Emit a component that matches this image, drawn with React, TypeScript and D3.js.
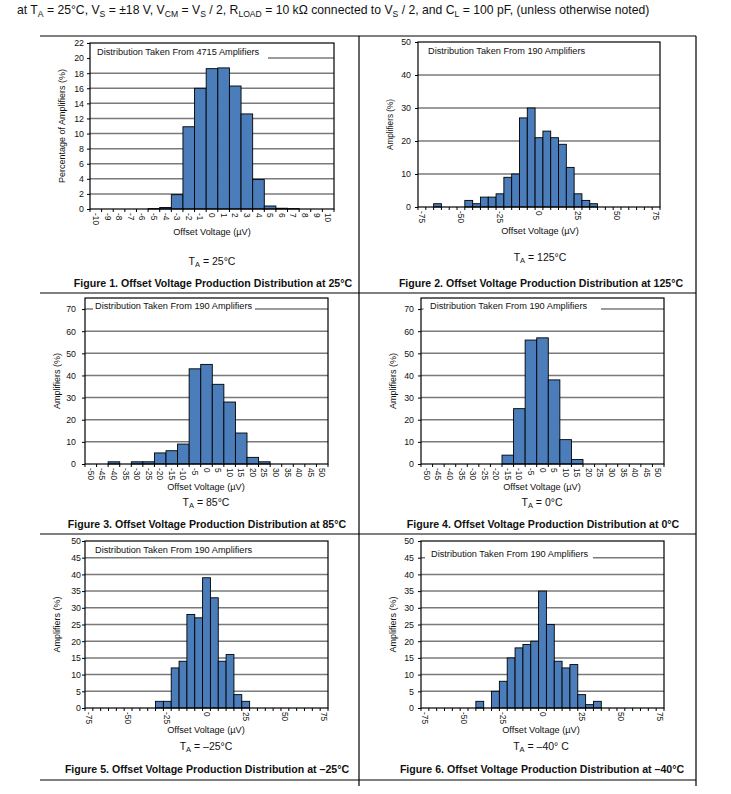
import { useEffect, useRef } from 'react';
import * as d3 from 'd3';

// ---- data ----
const fig1Bins = [-10, -9, -8, -7, -6, -5, -4, -3, -2, -1, 0, 1, 2, 3, 4, 5, 6, 7, 8, 9, 10];
const fig1Values = [0, 0, 0, 0, 0, 0.05, 0.2, 1.9, 10.9, 16, 18.6, 18.7, 16.3, 12.6, 3.9, 0.4, 0.1, 0.05, 0, 0, 0];
const fig1YTicks = [0, 2, 4, 6, 8, 10, 12, 14, 16, 18, 20, 22];

const wideBins = [-75, -70, -65, -60, -55, -50, -45, -40, -35, -30, -25, -20, -15, -10, -5, 0, 5, 10, 15, 20, 25, 30, 35, 40, 45, 50, 55, 60, 65, 70, 75];
const wideLabels = [-75, -50, -25, 0, 25, 50, 75];
const midBins = [-50, -45, -40, -35, -30, -25, -20, -15, -10, -5, 0, 5, 10, 15, 20, 25, 30, 35, 40, 45, 50];

const fig2Values = [0, 0, 1, 0, 0, 0, 2, 1, 3, 3, 4, 9, 10, 27, 30, 21, 23, 21, 19, 12, 4, 2, 1, 0, 0, 0, 0, 0, 0, 0, 0];
const fig2YTicks = [0, 10, 20, 30, 40, 50];

const fig3Values = [0, 0, 1, 0, 1, 1, 5, 6, 9, 43, 45, 36, 28, 14, 3, 1, 0, 0, 0, 0, 0];
const fig4Values = [0, 0, 0, 0, 0, 0, 0, 4, 25, 56, 57, 38, 11, 2, 0, 0, 0, 0, 0, 0, 0];
const fig34YTicks = [0, 10, 20, 30, 40, 50, 60, 70];

const fig5Values = [0, 0, 0, 0, 0, 0, 0, 0, 0, 2, 2, 12, 14, 28, 27, 39, 33, 14, 16, 4, 2, 0, 0, 0, 0, 0, 0, 0, 0, 0, 0];
const fig6Values = [0, 0, 0, 0, 0, 0, 0, 2, 0, 5, 8, 15, 18, 19, 20, 35, 25, 14, 12, 13, 4, 1, 2, 0, 0, 0, 0, 0, 0, 0, 0];
const fig56YTicks = [0, 5, 10, 15, 20, 25, 30, 35, 40, 45, 50];

const headerParts: [string, boolean][] = [
  ['at T', false], ['A', true], [' = 25°C, V', false], ['S', true], [' = ±18 V, V', false], ['CM', true],
  [' = V', false], ['S', true], [' / 2, R', false], ['LOAD', true], [' = 10 kΩ connected to V', false],
  ['S', true], [' / 2, and C', false], ['L', true], [' = 100 pF, (unless otherwise noted)', false],
];

const FONT = 'Liberation Sans, Arial, Helvetica, sans-serif';
const BAR = '#4a7dba';
const GRID = '#7a7a7a';

interface Panel {
  bins: number[];
  values: number[];
  labels: number[];
  yTicks: number[];
  yMax: number;
  left: number; right: number; top: number; bottom: number;
  yTitle: string; yTitleX: number; yTitleSize: number; tickPad: number;
  legend: string; legendX: number; legendY: number; box: [number, number] | null;
  cx: number; xTitleY: number;
  ta: string; taY: number;
  fig: string; figY: number;
}

const panels: Panel[] = [
  {
    bins: fig1Bins, values: fig1Values, labels: fig1Bins, yTicks: fig1YTicks, yMax: 22,
    left: 90, right: 334, top: 43, bottom: 209,
    yTitle: 'Percentage of Amplifiers (%)', yTitleX: 63, yTitleSize: 9, tickPad: 6,
    legend: 'Distribution Taken From 4715 Amplifiers', legendX: 97, legendY: 53, box: [90, 268],
    cx: 212, xTitleY: 233, ta: '25°C', taY: 261,
    fig: 'Figure 1. Offset Voltage Production Distribution at 25°C', figY: 283,
  },
  {
    bins: wideBins, values: fig2Values, labels: wideLabels, yTicks: fig2YTicks, yMax: 50,
    left: 418, right: 660, top: 42, bottom: 207,
    yTitle: 'Amplifiers (%)', yTitleX: 391, yTitleSize: 8.2, tickPad: 7,
    legend: 'Distribution Taken From 190 Amplifiers', legendX: 428, legendY: 52, box: null,
    cx: 540, xTitleY: 232, ta: '125°C', taY: 257,
    fig: 'Figure 2. Offset Voltage Production Distribution at 125°C', figY: 283,
  },
  {
    bins: midBins, values: fig3Values, labels: midBins, yTicks: fig34YTicks, yMax: 75,
    left: 85, right: 328, top: 298, bottom: 464,
    yTitle: 'Amplifiers (%)', yTitleX: 58, yTitleSize: 9, tickPad: 9,
    legend: 'Distribution Taken From 190 Amplifiers', legendX: 95, legendY: 307, box: [93, 255],
    cx: 206, xTitleY: 488, ta: '85°C', taY: 502,
    fig: 'Figure 3. Offset Voltage Production Distribution at 85°C', figY: 524,
  },
  {
    bins: midBins, values: fig4Values, labels: midBins, yTicks: fig34YTicks, yMax: 75,
    left: 421, right: 664, top: 298, bottom: 464,
    yTitle: 'Amplifiers (%)', yTitleX: 394, yTitleSize: 9, tickPad: 7,
    legend: 'Distribution Taken From 190 Amplifiers', legendX: 430, legendY: 307, box: [423.5, 601],
    cx: 542, xTitleY: 488, ta: '0°C', taY: 502,
    fig: 'Figure 4. Offset Voltage Production Distribution at 0°C', figY: 524,
  },
  {
    bins: wideBins, values: fig5Values, labels: wideLabels, yTicks: fig56YTicks, yMax: 50,
    left: 85, right: 328, top: 541, bottom: 708,
    yTitle: 'Amplifiers (%)', yTitleX: 58, yTitleSize: 9, tickPad: 4,
    legend: 'Distribution Taken From 190 Amplifiers', legendX: 95, legendY: 550.5, box: null,
    cx: 206, xTitleY: 731, ta: '–25°C', taY: 746,
    fig: 'Figure 5. Offset Voltage Production Distribution at –25°C', figY: 769,
  },
  {
    bins: wideBins, values: fig6Values, labels: wideLabels, yTicks: fig56YTicks, yMax: 50,
    left: 421, right: 664, top: 541, bottom: 708,
    yTitle: 'Amplifiers (%)', yTitleX: 394, yTitleSize: 9, tickPad: 7,
    legend: 'Distribution Taken From 190 Amplifiers', legendX: 431, legendY: 555, box: [425, 593],
    cx: 541, xTitleY: 731, ta: '–40° C', taY: 746,
    fig: 'Figure 6. Offset Voltage Production Distribution at –40°C', figY: 769,
  },
];

function drawPanel(svg: d3.Selection<SVGSVGElement, unknown, null, undefined>, p: Panel) {
  const x = d3.scaleBand<string>().domain(p.bins.map(String)).range([p.left, p.right]).padding(0);
  const y = d3.scaleLinear().domain([0, p.yMax]).range([p.bottom, p.top]);
  const g = svg.append('g');

  // gridlines
  g.selectAll('.grid')
    .data(p.yTicks.filter((t) => t > 0 && t < p.yMax))
    .enter()
    .append('line')
    .attr('x1', p.left).attr('x2', p.right)
    .attr('y1', (d) => y(d)).attr('y2', (d) => y(d))
    .attr('stroke', GRID)
    .attr('stroke-width', 1.5);

  // legend label, white box knocks out the gridline behind it
  if (p.box) {
    g.append('rect')
      .attr('x', p.box[0]).attr('y', p.legendY - 7)
      .attr('width', p.box[1] - p.box[0]).attr('height', 14)
      .attr('fill', '#fff');
  }
  g.append('text')
    .attr('x', p.legendX).attr('y', p.legendY)
    .attr('dominant-baseline', 'middle')
    .attr('font-size', 9.2)
    .attr('fill', '#111')
    .text(p.legend);

  // bars
  const bars = p.bins.map((b, i) => ({ b: String(b), v: p.values[i] })).filter((d) => d.v > 0);
  g.selectAll('.bar')
    .data(bars)
    .enter()
    .append('rect')
    .attr('x', (d) => x(d.b)!)
    .attr('y', (d) => y(d.v))
    .attr('width', x.bandwidth())
    .attr('height', (d) => p.bottom - y(d.v))
    .attr('fill', BAR)
    .attr('stroke', '#000')
    .attr('stroke-width', 0.9);

  // frame
  g.append('rect')
    .attr('x', p.left).attr('y', p.top)
    .attr('width', p.right - p.left).attr('height', p.bottom - p.top)
    .attr('fill', 'none')
    .attr('stroke', '#000')
    .attr('stroke-width', 1.2);

  // y axis
  const ya = g.append('g')
    .attr('transform', `translate(${p.left},0)`)
    .call(d3.axisLeft(y).tickValues(p.yTicks).tickSize(3).tickPadding(p.tickPad - 3));
  ya.select('.domain').remove();
  ya.selectAll('text').attr('font-size', 8.8).attr('font-family', FONT).attr('fill', '#111');

  // x axis: labels at band centres, ticks at band edges
  const xa = g.append('g')
    .attr('transform', `translate(0,${p.bottom})`)
    .call(d3.axisBottom(x).tickValues(p.labels.map(String)).tickSize(0).tickPadding(0));
  xa.select('.domain').remove();
  xa.selectAll('text')
    .attr('transform', 'rotate(90)')
    .attr('x', 4).attr('y', 0).attr('dy', '0.35em')
    .attr('font-size', 8.3).attr('font-family', FONT).attr('fill', '#111')
    .style('text-anchor', 'start');

  const edges = p.bins.map((b) => x(String(b))!).concat([p.right]);
  g.selectAll('.xtick')
    .data(edges)
    .enter()
    .append('line')
    .attr('x1', (d) => d).attr('x2', (d) => d)
    .attr('y1', p.bottom).attr('y2', p.bottom + 3)
    .attr('stroke', '#000')
    .attr('stroke-width', 1);

  // titles
  g.append('text')
    .attr('transform', `translate(${p.yTitleX},${(p.top + p.bottom) / 2}) rotate(-90)`)
    .attr('text-anchor', 'middle')
    .attr('dominant-baseline', 'middle')
    .attr('font-size', p.yTitleSize)
    .attr('fill', '#111')
    .text(p.yTitle);

  g.append('text')
    .attr('x', p.cx).attr('y', p.xTitleY)
    .attr('text-anchor', 'middle')
    .attr('dominant-baseline', 'middle')
    .attr('font-size', 9.2)
    .attr('fill', '#111')
    .text('Offset Voltage (µV)');

  const ta = g.append('text')
    .attr('x', p.cx).attr('y', p.taY + 3.5)
    .attr('text-anchor', 'middle')
    .attr('font-size', 10.5)
    .attr('fill', '#111');
  ta.append('tspan').text('T');
  ta.append('tspan').attr('font-size', 7.5).attr('dy', 2.5).text('A');
  ta.append('tspan').attr('dy', -2.5).text(` = ${p.ta}`);

  g.append('text')
    .attr('x', p.cx + 1).attr('y', p.figY + 3.8)
    .attr('text-anchor', 'middle')
    .attr('font-size', 10.6)
    .attr('font-weight', 'bold')
    .attr('fill', '#111')
    .text(p.fig);
}

export default function App() {
  const svgRef = useRef<SVGSVGElement>(null);

  useEffect(() => {
    if (!svgRef.current) return;
    const svg = d3.select(svgRef.current);
    svg.selectAll('*').remove();

    svg.append('rect').attr('width', 731).attr('height', 794).attr('fill', '#fff');

    // header line with subscripts
    const head = svg.append('text')
      .attr('x', 17).attr('y', 14)
      .attr('font-size', 12.2)
      .attr('fill', '#111');
    let shifted = false;
    headerParts.forEach(([t, sub]) => {
      const ts = head.append('tspan').text(t);
      if (sub && !shifted) { ts.attr('dy', 3).attr('font-size', 8.6); shifted = true; }
      else if (sub) ts.attr('font-size', 8.6);
      else if (shifted) { ts.attr('dy', -3); shifted = false; }
    });

    // table rules
    const rules = [
      [40, 36, 696, 36], [40, 293, 696, 293], [40, 534, 696, 534], [40, 780, 696, 780],
      [359, 36, 359, 786], [696, 36, 696, 786],
    ];
    svg.selectAll('.rule')
      .data(rules)
      .enter()
      .append('line')
      .attr('x1', (d) => d[0]).attr('y1', (d) => d[1])
      .attr('x2', (d) => d[2]).attr('y2', (d) => d[3])
      .attr('stroke', '#000')
      .attr('stroke-width', 1.2);

    panels.forEach((p) => drawPanel(svg as any, p));
  }, []);

  return (
    <svg
      ref={svgRef}
      width={731}
      height={794}
      style={{ position: 'absolute', left: 0, top: 0, fontFamily: FONT }}
    />
  );
}
